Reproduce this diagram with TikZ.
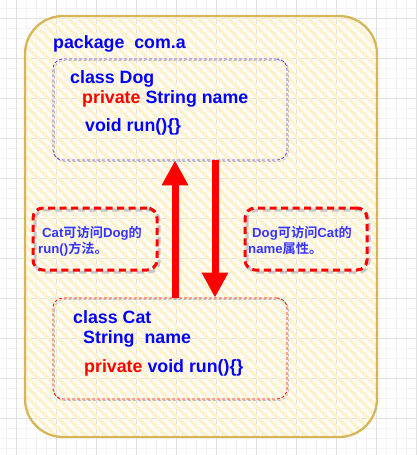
\documentclass[tikz,border=0pt]{standalone}
\usepackage{fontspec}
\setmainfont{Liberation Sans}
\newfontfamily\cjk{Noto Sans CJK SC}[BoldFont={Noto Sans CJK SC Bold}]
\usetikzlibrary{arrows.meta,positioning}

\definecolor{pkgline}{HTML}{D6B656}
\definecolor{pkgfill}{HTML}{FFF2CC}
\definecolor{kwblue}{HTML}{0000FF}
\definecolor{kwred}{HTML}{FF0000}
\definecolor{noteblue}{HTML}{3535FF}
\definecolor{dogline}{HTML}{5A40E8}
\definecolor{gridminor}{HTML}{F3F3F3}
\definecolor{gridmajor}{HTML}{E2E2E2}

\newcommand{\lat}[1]{{\rmfamily\bfseries #1}}

\tikzset{
	code/.style={anchor=base west, inner sep=0pt, text=kwblue,
		font=\bfseries\fontsize{17.8}{20}\selectfont},
	notetext/.style={anchor=base west, inner sep=0pt, text=noteblue,
		font=\cjk\bfseries\fontsize{13.2}{15}\selectfont},
	classbox/.style={rectangle, rounded corners=10pt, line width=0.8pt,
		dash pattern=on 3pt off 2pt, minimum width=234pt, minimum height=101pt},
	notebox/.style={rectangle, rounded corners=10pt, draw=kwred, line width=3pt,
		dash pattern=on 7pt off 4.5pt, minimum width=124pt, minimum height=62pt},
	noteshadow/.style={rounded corners=10pt, draw=black!22, line width=3pt,
		dash pattern=on 7pt off 4.5pt},
	bigarrow/.style={draw=kwred, line width=7pt,
		-{Triangle[width=25pt,length=25pt]}},
}

\begin{document}
\begin{tikzpicture}[x=1pt,y=-1pt]

	\useasboundingbox (0,0) rectangle (417,455);

	% grid
	\foreach \x in {6,16,...,416}
		\draw[gridminor,line width=0.8pt] (\x,0) -- (\x,455);
	\foreach \y in {8,18,...,448}
		\draw[gridminor,line width=0.8pt] (0,\y) -- (417,\y);
	\foreach \x in {16,56,...,416}
		\draw[gridmajor,line width=0.8pt] (\x,0) -- (\x,455);
	\foreach \y in {18,58,...,418}
		\draw[gridmajor,line width=0.8pt] (0,\y) -- (417,\y);

	%---------------------
	% package
	%---------------------
	\begin{scope}
		\clip[rounded corners=38pt] (25,16) rectangle (377,437);
		\foreach \a in {-420,-410,...,380}
			\draw[pkgfill,line width=3.8pt] (\a,0) -- ++(460,460);
	\end{scope}
	\draw[pkgline,line width=2.3pt,rounded corners=38pt] (25,16) rectangle (377,437);
	\node[code] (pkgname) at (53,48) {package\ \ com.a};

	%---------------------
	% class Dog
	%---------------------
	\draw[classbox,draw=black!25] (54.5,60.5) rectangle (288.5,161.5);
	\node[classbox,draw=dogline] (dog) at (170,109.5) {};
	\node[code] (dogname) at (70,83) {class Dog};
	\node[code] (dogfield) at (82,103) {{\color{kwred}private} String name};
	\node[code] (dogmethod) at (85,131.5) {void run()\{\}};

	%---------------------
	% class Cat
	%---------------------
	\draw[classbox,draw=black!25] (54.5,299.5) rectangle (288.5,400.5);
	\node[classbox,draw=kwred] (cat) at (170,348.5) {};
	\node[code] (catname) at (73,323) {class Cat};
	\node[code] (catfield) at (83,343) {String\ \ name};
	\node[code] (catmethod) at (84,372) {{\color{kwred}private} void run()\{\}};

	% arrows
	\draw[bigarrow] ([xshift=5pt]cat.north) -- ([xshift=5pt]dog.south);
	\draw[bigarrow] ([xshift=45pt]dog.south) -- ([xshift=45pt]cat.north);

	%---------------------
	% notes
	%---------------------
	\draw[noteshadow] (35,210) rectangle (159,272);
	\node[notebox] (catnote) at (95,239) {};
	\node[notetext] (catnote1) at (42,237) {\lat{Cat}可访问\lat{Dog}的};
	\node[notetext] (catnote2) at (38,253) {\lat{run()}方法。};

	\draw[noteshadow] (247,210) rectangle (369,272);
	\node[notebox,minimum width=122pt] (dognote) at (306,239) {};
	\node[notetext] (dognote1) at (252,237) {\lat{Dog}可访问\lat{Cat}的};
	\node[notetext] (dognote2) at (248,253) {\lat{name}属性。};

\end{tikzpicture}
\end{document}
